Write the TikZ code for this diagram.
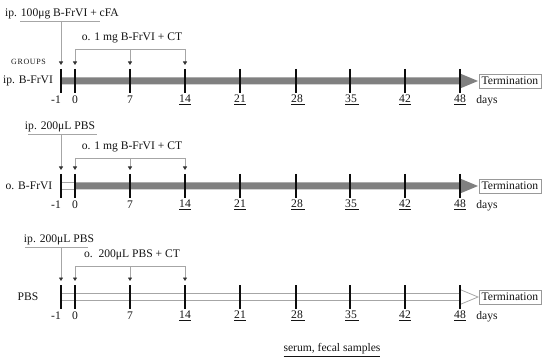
\documentclass[tikz,border=0pt]{standalone}
\usepackage{fontspec}
\setmainfont{Liberation Serif}
\usetikzlibrary{arrows.meta}
\newcommand{\TimeRow}[2]{% #1 = bar y, #2 = name prefix
  \foreach \x/\n in {61/m1,75/d0,130/d7,185/d14,240/d21,296/d28,350/d35,405/d42,460/d48}{
    \draw[tk] (\x,#1-12) -- (\x,#1+12);
    \coordinate (#2a\n) at (\x,#1-16);
  }
  \node[txt] (#2lm1) at (56,#1+19) {-1};
  \node[txt] (#2l0) at (75,#1+19) {0};
  \node[txt] (#2l7) at (130,#1+19) {7};
  \node[txt] (#2l14) at (185,#1+19) {\underline{14}};
  \node[txt] (#2l21) at (240,#1+19) {\underline{21}};
  \node[txt] (#2l28) at (298,#1+19) {\underline{28\,}};
  \node[txt] (#2l35) at (352,#1+19) {\underline{35\,}};
  \node[txt] (#2l42) at (405,#1+19) {\underline{42}};
  \node[txt] (#2l48) at (460,#1+19) {\underline{48}};
  \node[txt] (#2days) at (487,#1+20) {days};
  \node[term] (#2term) at (478.5,#1) {Termination};
}
\newcommand{\BarShape}[3]{% #1 = y, #2 = start x, #3 = style
  \path[#3] (#2,#1-3.5) -- (460,#1-3.5) -- (460,#1-7.5) -- (478,#1) -- (460,#1+7.5) -- (460,#1+3.5) -- (#2,#1+3.5) -- cycle;
}
\begin{document}
\begin{tikzpicture}[x=1pt,y=-1pt,
  txt/.style={font=\fontsize{11.6}{13}\selectfont, text=black!92, inner sep=0pt},
  gl/.style={draw=black!35, line width=0.8pt},
  conn/.style={gl, -{Triangle[length=3.5pt,width=4pt,color=black!80]}},
  tk/.style={draw=black!95, line width=2.5pt},
  term/.style={draw=black!40, line width=0.7pt, fill=white, text=black!92,
    font=\fontsize{11.6}{13}\selectfont, inner xsep=2.8pt, inner ysep=0pt,
    minimum height=14pt, anchor=west},
  barfill/.style={fill=black!50, draw=none},
  barhollow/.style={fill=white, draw=black!35, line width=0.8pt}]
\useasboundingbox (0,0) rectangle (550,361);

% ---------- Row 1 : ip. B-FrVI ----------
\BarShape{81}{61}{barfill}
\TimeRow{81}{r1}
\node[font=\fontsize{8}{9}\selectfont\addfontfeature{LetterSpace=8}, text=black!90, inner sep=0pt] (groups) at (28.5,62) {GROUPS};
\node[txt] (g1) at (28,81) {ip. B-FrVI};
\node[txt] (ip1) at (62,14) {ip. 100μg B-FrVI + cFA};
\coordinate (ip1l) at (20,21);
\coordinate (ip1r) at (100,21);
\coordinate (ip1c) at (61,21);
\draw[gl] (ip1l) -- (ip1r);
\draw[conn] (ip1c) -- (r1am1);
\node[txt] (o1) at (132,38) {o. 1 mg B-FrVI + CT};
\coordinate (br1) at (130,49);
\draw[gl] (r1ad0 |- br1) -- (r1ad14 |- br1);
\draw[conn] (r1ad0 |- br1) -- (r1ad0);
\draw[conn] (r1ad7 |- br1) -- (r1ad7);
\draw[conn] (r1ad14 |- br1) -- (r1ad14);

% ---------- Row 2 : o. B-FrVI ----------
\draw[gl] (61,182.5) -- (75,182.5);
\draw[gl] (61,189.5) -- (75,189.5);
\BarShape{186}{75}{barfill}
\TimeRow{186}{r2}
\node[txt] (g2) at (29,186) {o. B-FrVI};
\node[txt] (ip2) at (60,127) {ip. 200μL PBS};
\coordinate (ip2l) at (28,134);
\coordinate (ip2r) at (97,134);
\coordinate (ip2c) at (61,134);
\draw[gl] (ip2l) -- (ip2r);
\draw[conn] (ip2c) -- (r2am1);
\node[txt] (o2) at (132,147) {o. 1 mg B-FrVI + CT};
\coordinate (br2) at (130,158);
\draw[gl] (r2ad0 |- br2) -- (r2ad14 |- br2);
\draw[conn] (r2ad0 |- br2) -- (r2ad0);
\draw[conn] (r2ad7 |- br2) -- (r2ad7);
\draw[conn] (r2ad14 |- br2) -- (r2ad14);

% ---------- Row 3 : PBS ----------
\BarShape{297}{61}{barhollow}
\TimeRow{297}{r3}
\node[txt] (g3) at (28,297) {PBS};
\node[txt] (ip3) at (59,240) {ip. 200μL PBS};
\coordinate (ip3l) at (25,247);
\coordinate (ip3r) at (88,247);
\coordinate (ip3c) at (61,247);
\draw[gl] (ip3l) -- (ip3r);
\draw[conn] (ip3c) -- (r3am1);
\node[txt] (o3) at (132,255) {o.\ \ 200μL PBS + CT};
\coordinate (br3) at (130,266);
\draw[gl] (r3ad0 |- br3) -- (r3ad14 |- br3);
\draw[conn] (r3ad0 |- br3) -- (r3ad0);
\draw[conn] (r3ad7 |- br3) -- (r3ad7);
\draw[conn] (r3ad14 |- br3) -- (r3ad14);

% ---------- footer ----------
\node[txt] (samples) at (332,350) {\underline{serum, fecal samples}};
\end{tikzpicture}
\end{document}
